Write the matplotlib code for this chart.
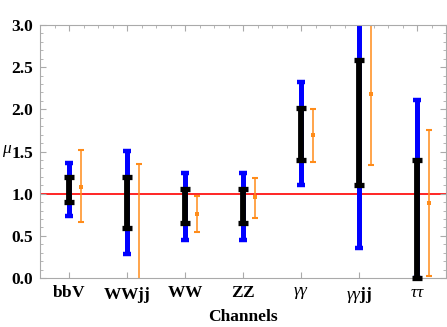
import matplotlib
matplotlib.use("Agg")
import matplotlib.pyplot as plt
import numpy as np
from matplotlib.ticker import MultipleLocator

plt.rcParams["font.family"] = "Liberation Serif"
plt.rcParams["mathtext.fontset"] = "custom"
plt.rcParams["mathtext.rm"] = "Liberation Serif"
plt.rcParams["mathtext.it"] = "Liberation Serif:italic"
plt.rcParams["mathtext.bf"] = "Liberation Serif:bold"

channels = [r"$\mathbf{bbV}$", r"$\mathbf{WWjj}$", r"$\mathbf{WW}$", r"$\mathbf{ZZ}$",
            r"$\mathit{γγ}$", r"$\mathit{γγ}\mathbf{jj}$", r"$\mathit{ττ}$"]
y_ticks = [0.0, 0.5, 1.0, 1.5, 2.0, 2.5, 3.0]

# outer (blue) and inner (black) intervals
blue_lo = [0.73, 0.29, 0.45, 0.45, 1.10, 0.35, 0.00]
blue_hi = [1.36, 1.51, 1.25, 1.25, 2.32, 3.30, 2.11]
black_lo = [0.90, 0.59, 0.65, 0.65, 1.40, 1.10, 0.00]
black_hi = [1.20, 1.20, 1.05, 1.05, 2.01, 2.59, 1.40]

# orange measurement: central value and interval
orange_mid = [1.08, -0.10, 0.76, 0.96, 1.69, 2.18, 0.89]
orange_lo = [0.66, -1.00, 0.54, 0.71, 1.38, 1.34, 0.02]
orange_hi = [1.52, 1.35, 0.97, 1.19, 2.00, 3.30, 1.75]

x = np.arange(1, len(channels) + 1)
xo = x + 0.2

fig = plt.figure(figsize=(4.47, 3.27), dpi=100)
ax = fig.add_axes([40 / 447, 1 - 278 / 327, 406 / 447, 253 / 327])

ax.axhline(1.0, color="#ff0000", lw=1.2, zorder=1)

ax.vlines(x, blue_lo, blue_hi, color="#0000ff", lw=3.6, zorder=2)
ax.plot(x, blue_lo, ls="none", marker="_", ms=6, mew=3.2, color="#0000ff", zorder=2)
ax.plot(x, blue_hi, ls="none", marker="_", ms=6, mew=3.2, color="#0000ff", zorder=2)

ax.vlines(x, black_lo, black_hi, color="black", lw=4.2, zorder=3)
ax.plot(x, black_lo, ls="none", marker="_", ms=6.5, mew=3.8, color="black", zorder=3, clip_on=False)
ax.plot(x, black_hi, ls="none", marker="_", ms=6.5, mew=3.8, color="black", zorder=3)

orange = "#ff8c1a"
ax.vlines(xo, orange_lo, orange_hi, color=orange, lw=1.1, zorder=2)
ax.plot(xo, orange_lo, ls="none", marker="_", ms=4, mew=1.5, color=orange, zorder=2)
ax.plot(xo, orange_hi, ls="none", marker="_", ms=4, mew=1.5, color=orange, zorder=2)
ax.plot(xo, orange_mid, ls="none", marker="s", ms=2.5, mew=0, color=orange, zorder=2)

ax.set_xlim(0.5, 7.5)
ax.set_ylim(0, 3.0)
ax.set_xticks(x)
ax.set_xticklabels(channels, fontsize=12.5)
ax.xaxis.set_minor_locator(MultipleLocator(0.25))
ax.set_yticks(y_ticks)
ax.set_yticklabels([f"{v:.1f}" for v in y_ticks], fontsize=12.5, fontweight="bold")
ax.yaxis.set_minor_locator(MultipleLocator(0.1))

ax.tick_params(which="both", direction="in", color="#aaaaaa", top=True, right=True)
ax.tick_params(which="major", length=4, width=0.8, pad=5)
ax.tick_params(which="minor", length=2, width=0.6)
ax.tick_params(axis="x", which="minor", bottom=False)
for s in ax.spines.values():
    s.set_color("#aaaaaa")
    s.set_linewidth(0.8)

ax.set_xlabel("Channels", fontsize=12.5, fontweight="bold", labelpad=3)
ax.set_ylabel(r"$\mathit{μ}$", fontsize=12.5, rotation=0)
ax.yaxis.set_label_coords(-0.082, 0.47)

fig.savefig("out.png", dpi=100)
